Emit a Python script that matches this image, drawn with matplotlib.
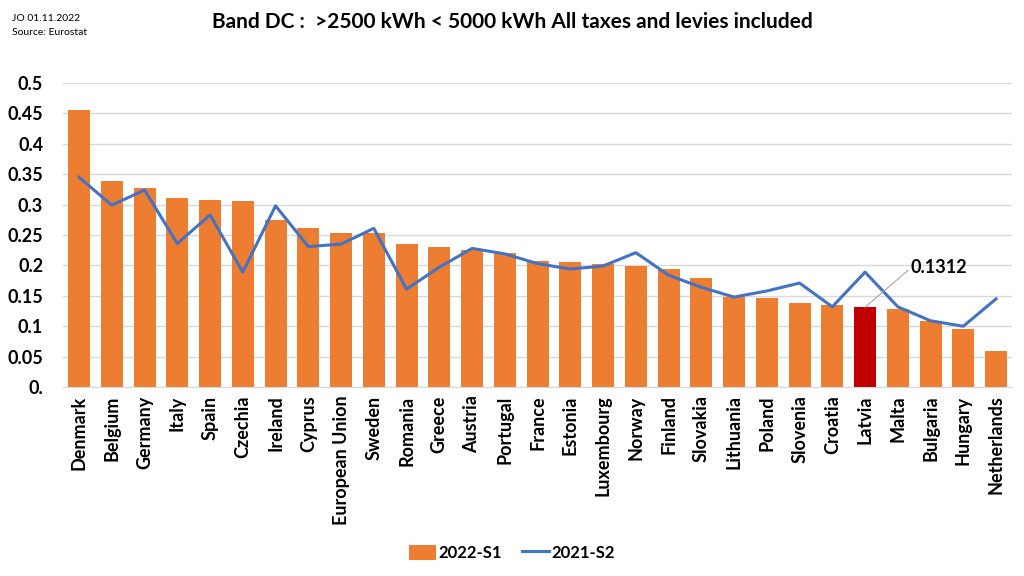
import numpy as np
import matplotlib.pyplot as plt

plt.rcParams["font.family"] = ["Lato", "DejaVu Sans"]

countries = [
    "Denmark", "Belgium", "Germany", "Italy", "Spain", "Czechia", "Ireland",
    "Cyprus", "European Union", "Sweden", "Romania", "Greece", "Austria",
    "Portugal", "France", "Estonia", "Luxembourg", "Norway", "Finland",
    "Slovakia", "Lithuania", "Poland", "Slovenia", "Croatia", "Latvia",
    "Malta", "Bulgaria", "Hungary", "Netherlands",
]

s2022_1 = [
    0.456, 0.338, 0.328, 0.311, 0.307, 0.306, 0.274, 0.261, 0.253, 0.253,
    0.236, 0.230, 0.226, 0.220, 0.208, 0.205, 0.202, 0.199, 0.194, 0.180,
    0.148, 0.146, 0.139, 0.135, 0.1312, 0.129, 0.109, 0.095, 0.060,
]

s2021_2 = [
    0.345, 0.299, 0.324, 0.236, 0.283, 0.189, 0.298, 0.231, 0.235, 0.261,
    0.161, 0.197, 0.228, 0.219, 0.203, 0.194, 0.199, 0.221, 0.184, 0.164,
    0.148, 0.158, 0.171, 0.132, 0.189, 0.132, 0.109, 0.100, 0.145,
]

highlight = "Latvia"
yticks = [0, 0.05, 0.1, 0.15, 0.2, 0.25, 0.3, 0.35, 0.4, 0.45, 0.5]
ytick_labels = ["0.", "0.05", "0.1", "0.15", "0.2", "0.25", "0.3", "0.35", "0.4", "0.45", "0.5"]

ORANGE = "#ED7D31"
BLUE = "#4472C4"
RED = "#C00000"

fig = plt.figure(figsize=(10.24, 5.76), dpi=100)
ax = fig.add_axes([0.0612, 0.328, 0.9275, 0.528])

x = np.arange(len(countries))
colors = [RED if c == highlight else ORANGE for c in countries]
bars = ax.bar(x, s2022_1, width=0.67, color=colors, label="2022-S1", zorder=2)
line, = ax.plot(x, s2021_2, color=BLUE, lw=2.2, label="2021-S2", zorder=3)

ax.set_xlim(-0.5, len(countries) - 0.5)
ax.set_ylim(0, 0.5)
ax.set_yticks(yticks)
ax.set_yticklabels(ytick_labels, fontsize=13, fontweight="bold")
ax.set_xticks(x)
ax.set_xticklabels(countries, rotation=90, fontsize=13, fontweight="bold")
ax.tick_params(axis="y", length=0, pad=14)
ax.tick_params(axis="x", length=0, pad=6)
ax.grid(axis="y", color="#D9D9D9", lw=1, zorder=0)
for side in ["top", "right", "left"]:
    ax.spines[side].set_visible(False)
ax.spines["bottom"].set_color("#D9D9D9")

# label for Latvia
i = countries.index(highlight)
ax.annotate(
    f"{s2022_1[i]:.4f}",
    xy=(i, s2022_1[i]), xytext=(i + 1.4, 0.196),
    fontsize=13, fontweight="bold", va="center", ha="left",
    arrowprops=dict(arrowstyle="-", color="#A6A6A6", lw=0.8,
                    shrinkA=0, shrinkB=0, relpos=(0, 0.5)),
)

fig.text(0.5, 0.962, "Band DC :  >2500 kWh < 5000 kWh All taxes and levies included",
         ha="center", va="center", fontsize=15, fontweight="bold")
fig.text(0.012, 0.955, "JO 01.11.2022\nSource: Eurostat", ha="left", va="center",
         fontsize=7.5, linespacing=1.7)

fig.legend([bars[0], line], ["2022-S1", "2021-S2"], loc="center",
           bbox_to_anchor=(0.5, 0.04), ncol=2, frameon=False,
           prop={"size": 12, "weight": "bold"}, handlelength=1.6,
           handleheight=1.0, columnspacing=1.2, handletextpad=0.15)

fig.savefig("out.png", dpi=100)
